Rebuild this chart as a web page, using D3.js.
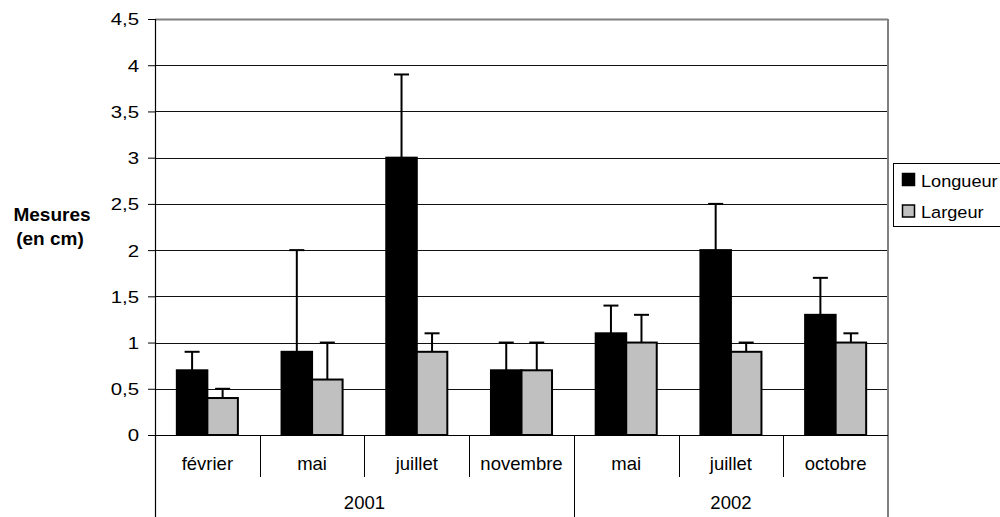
<!DOCTYPE html>
<html><head><meta charset="utf-8">
<script src="https://cdn.jsdelivr.net/npm/d3@7"></script>
<style>body{margin:0;background:#fff}svg{display:block;font-family:"Liberation Sans",Arial,sans-serif}</style>
</head><body><svg id="c" width="1000" height="517"></svg>
<script>
const months = ["février","mai","juillet","novembre","mai","juillet","octobre"];
const years = ["2001","2002"];
const yearCounts = [4,3];
const longueur = [0.7,0.9,3.0,0.7,1.1,2.0,1.3];
const longueurErr = [0.2,1.1,0.9,0.3,0.3,0.5,0.4];
const largeur = [0.4,0.6,0.9,0.7,1.0,0.9,1.0];
const largeurErr = [0.1,0.4,0.2,0.3,0.3,0.1,0.1];
const yTicks = [0,0.5,1,1.5,2,2.5,3,3.5,4,4.5];
const seriesNames = ["Longueur","Largeur"];
const seriesColors = ["#000000","#c0c0c0"];

const svg = d3.select("#c");
const L=155,R=888,T=19,B=435;
const x = d3.scaleBand().domain(d3.range(months.length)).range([L,R]).paddingInner(0.417).paddingOuter(0.2085);
const xi = d3.scaleBand().domain(d3.range(months.length)).range([L,R]);
const y = d3.scaleLinear().domain([0,4.5]).range([B,T]);
const bw = x.bandwidth()/2;

// gridlines
svg.append("g").selectAll("line").data(yTicks.filter(d=>d>0&&d<4.5)).join("line")
  .attr("x1",L).attr("x2",R).attr("y1",d=>Math.round(y(d))+0.5).attr("y2",d=>Math.round(y(d))+0.5)
  .attr("stroke","#111").attr("stroke-width",1.2);
// plot border top/right
svg.append("line").attr("x1",L).attr("x2",R).attr("y1",T+0.5).attr("y2",T+0.5).attr("stroke","#808080").attr("stroke-width",2);
svg.append("line").attr("x1",R).attr("x2",R).attr("y1",T).attr("y2",B).attr("stroke","#808080").attr("stroke-width",2);

// y axis
const yAxis = d3.axisLeft(y).tickValues(yTicks).tickSize(7).tickPadding(0).tickFormat(d=>String(d).replace(".",","));
const gy = svg.append("g").attr("transform",`translate(${L},0)`).call(yAxis);
gy.select(".domain").remove();
gy.selectAll(".tick line").attr("stroke","#000");
gy.selectAll("text").attr("font-size",17).attr("fill","#000").attr("x",null).attr("dy","0.35em")
  .attr("font-family","Liberation Sans, Arial, sans-serif")
  .attr("transform","translate(-16,0) scale(1.2,1)");

// bars
const series = [{v:longueur,e:longueurErr},{v:largeur,e:largeurErr}];
series.forEach((s,si)=>{
  const g = svg.append("g");
  g.selectAll("line.err").data(s.v).join("line")
    .attr("x1",(d,i)=>x(i)+bw*si+bw/2).attr("x2",(d,i)=>x(i)+bw*si+bw/2)
    .attr("y1",(d)=>y(d)).attr("y2",(d,i)=>y(d+s.e[i]))
    .attr("stroke","#000").attr("stroke-width",2);
  g.selectAll("line.cap").data(s.v).join("line")
    .attr("x1",(d,i)=>x(i)+bw*si+bw/2-7.5).attr("x2",(d,i)=>x(i)+bw*si+bw/2+7.5)
    .attr("y1",(d,i)=>y(d+s.e[i])).attr("y2",(d,i)=>y(d+s.e[i]))
    .attr("stroke","#000").attr("stroke-width",2);
  g.selectAll("rect").data(s.v).join("rect")
    .attr("x",(d,i)=>x(i)+bw*si).attr("width",bw)
    .attr("y",d=>y(d)).attr("height",d=>B-y(d))
    .attr("fill",seriesColors[si]).attr("stroke","#000").attr("stroke-width",2);
});

// axes lines
svg.append("line").attr("x1",L-7).attr("x2",R).attr("y1",B+0.5).attr("y2",B+0.5).attr("stroke","#000").attr("stroke-width",1.2);
svg.append("line").attr("x1",L+0.5).attr("x2",L+0.5).attr("y1",T).attr("y2",517).attr("stroke","#000").attr("stroke-width",1.2);

// category separators
svg.append("g").selectAll("line").data(d3.range(1,months.length)).join("line")
  .attr("x1",i=>Math.round(xi(i))+0.5).attr("x2",i=>Math.round(xi(i))+0.5).attr("y1",B).attr("y2",477)
  .attr("stroke","#000");
// year separators
let cum=0; const yb=[0];
yearCounts.forEach(c=>{cum+=c;yb.push(cum);});
svg.append("g").selectAll("line").data(yb.slice(1)).join("line")
  .attr("x1",i=>i>=months.length?R:Math.round(xi(i))+0.5).attr("x2",i=>i>=months.length?R:Math.round(xi(i))+0.5)
  .attr("y1",B).attr("y2",517).attr("stroke","#000");

// category labels
svg.append("g").selectAll("text").data(months).join("text")
  .attr("x",(d,i)=>xi(i)+xi.bandwidth()/2).attr("y",470).attr("text-anchor","middle")
  .attr("font-size",18.5).text(d=>d);
// year labels
svg.append("g").selectAll("text").data(years).join("text")
  .attr("x",(d,i)=>{const a=xi(yb[i]);const b=yb[i+1]>=months.length?R:xi(yb[i+1]);return (a+b)/2;})
  .attr("y",509).attr("text-anchor","middle").attr("font-size",18.5).text(d=>d);

// y title
const yt = svg.append("text").attr("text-anchor","middle").attr("font-size",19).attr("font-weight","bold");
yt.append("tspan").attr("x",52).attr("y",221).text("Mesures");
yt.append("tspan").attr("x",50).attr("y",245).text("(en cm)");

// legend
const lg = svg.append("g");
lg.append("rect").attr("x",893.5).attr("y",163.5).attr("width",130).attr("height",63).attr("fill","#fff").attr("stroke","#000");
seriesNames.forEach((n,i)=>{
  lg.append("rect").attr("x",902.5).attr("y",173.5+i*31.5).attr("width",12).attr("height",12)
    .attr("fill",seriesColors[i]).attr("stroke","#000").attr("stroke-width",1.5);
  lg.append("text").attr("transform",`translate(921,${186.5+i*31}) scale(1.1,1)`).attr("font-size",16.5).text(n);
});
</script></body></html>
